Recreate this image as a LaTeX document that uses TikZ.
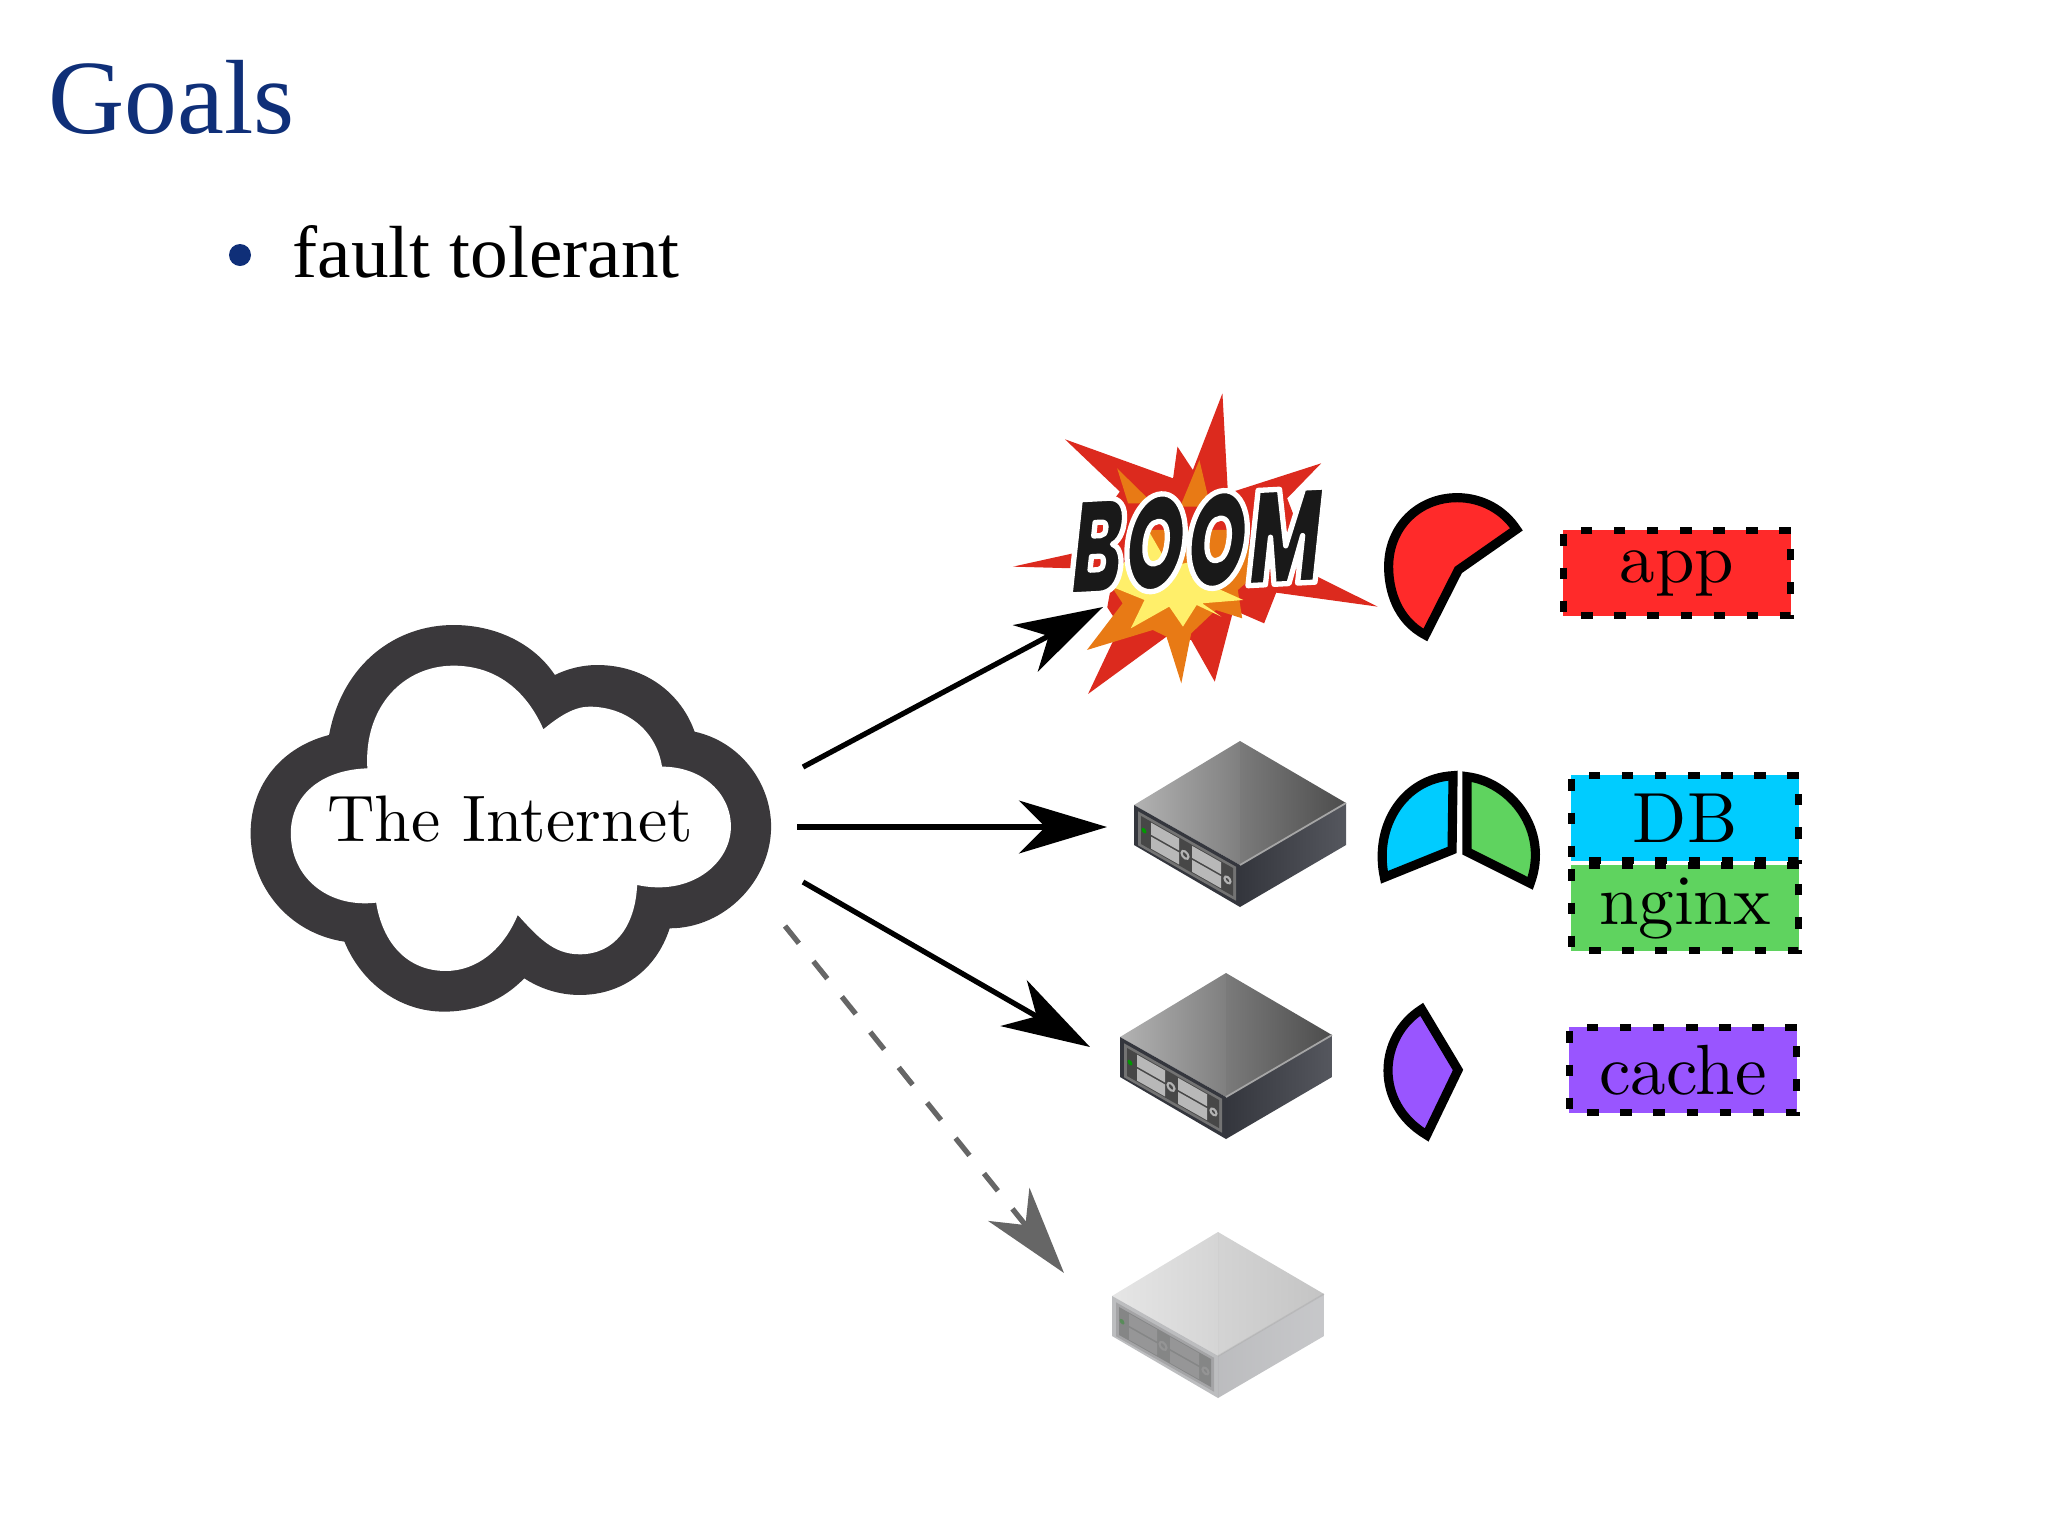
\documentclass[tikz,border=0pt]{standalone}
\usepackage{fontspec}
\usetikzlibrary{arrows.meta}
\newfontfamily\slidefont{Liberation Serif}
\newfontfamily\goalfont{Liberation Serif}[FakeStretch=1.02]
\newfontfamily\boomfont{Poppins Black}[FakeSlant=0.16,FakeStretch=0.59]

\definecolor{slideblue}{HTML}{0F2F78}
\definecolor{clouddark}{HTML}{3A383B}
\definecolor{apppart}{HTML}{FF2A2A}
\definecolor{dbpart}{HTML}{00CCFF}
\definecolor{nginxpart}{HTML}{5FD35F}
\definecolor{cachepart}{HTML}{9955FF}
\definecolor{boomred}{HTML}{DC2A1E}
\definecolor{boomorange}{HTML}{E87A15}
\definecolor{boomyellow}{HTML}{FFEF6A}
\definecolor{casedark}{HTML}{34363D}
\definecolor{casemid}{HTML}{55575E}

\tikzset{
    link/.style={line width=1.5pt, -{Stealth[length=25pt, width=15pt, inset=7.5pt]}},
    lostlink/.style={link, color=black!60, dash pattern=on 6.3pt off 6.6pt},
    part/.style={draw=black, line width=2.6pt},
    service/.style={draw=black, line width=1.9pt, dash pattern=on 3.2pt off 6.2pt,
        minimum width=32pt, minimum height=12pt, inner sep=0pt, scale=2.02},
    pics/server/.style={code={
        % top of the case
        \shade[left color=black!30, right color=black!50] (0,0) -- (-106,64) -- (0,124) -- cycle;
        \shade[left color=black!52, right color=black!70] (0,0) -- (106,62) -- (0,124) -- cycle;
        % sides
        \fill[casedark] (-106,64) -- (0,124) -- (0,166) -- (-106,104) -- cycle;
        \shade[left color=casedark, right color=casemid] (0,124) -- (106,62) -- (106,104) -- (0,166) -- cycle;
        \draw[black!35, line width=0.5pt] (0,124) -- (106,62);
        % front panel
        \begin{scope}[shift={(-106,64)}, yslant=-0.566]
            \fill[black!55] (4,4) rectangle (102,38);
            \fill[black!72] (7,7) rectangle (99,35);
            \fill[green!60!black] (10,20) circle (2.5);
            \fill[black!28] (17,8) rectangle (45,20);
            \fill[black!28] (17,22) rectangle (45,34);
            \fill[black!28] (58,8) rectangle (87,20);
            \fill[black!28] (58,22) rectangle (87,34);
            \draw[black!30, line width=0.6pt] (51,21) circle (3.5);
            \draw[black!30, line width=0.6pt] (93.5,22) circle (3);
        \end{scope}
    }}
}

\begin{document}
\begin{tikzpicture}[x=0.01cm, y=-0.01cm]
    \useasboundingbox (0,0) rectangle (2048,1536);

    \node[anchor=base west, inner sep=0pt, text=slideblue, font=\slidefont\fontsize{30}{36}\selectfont] (title) at (48,133) {Goals};
    \fill[slideblue] (240,255) circle (11);
    \node[anchor=base west, inner sep=0pt, font=\goalfont\fontsize{21}{25}\selectfont] (goal) at (292,277) {fault tolerant};

    % cloud
    \begin{scope}[shift={(220,600)}, xscale=0.3827, yscale=0.3333]
        \fill[clouddark] (285,405) .. controls (320,190) and (460,75) .. (610,75)
            .. controls (720,75) and (820,130) .. (875,225)
            .. controls (910,205) and (950,195) .. (985,195)
            .. controls (1110,195) and (1205,280) .. (1240,395)
            .. controls (1360,425) and (1440,550) .. (1440,680)
            .. controls (1440,840) and (1320,985) .. (1175,985)
            .. controls (1140,1110) and (1050,1185) .. (940,1185)
            .. controls (885,1185) and (835,1165) .. (795,1135)
            .. controls (740,1200) and (670,1235) .. (585,1235)
            .. controls (470,1235) and (370,1150) .. (325,1025)
            .. controls (180,1000) and (80,860) .. (80,700)
            .. controls (80,550) and (165,440) .. (285,405) -- cycle;
        \fill[white] (385,505) .. controls (375,320) and (480,197) .. (610,197)
            .. controls (720,197) and (800,270) .. (845,388)
            .. controls (885,350) and (925,320) .. (965,320)
            .. controls (1060,320) and (1140,390) .. (1155,500)
            .. controls (1260,500) and (1335,580) .. (1335,680)
            .. controls (1335,790) and (1230,890) .. (1090,855)
            .. controls (1085,980) and (1030,1063) .. (940,1063)
            .. controls (870,1063) and (830,1010) .. (778,945)
            .. controls (740,1050) and (670,1113) .. (590,1113)
            .. controls (490,1113) and (425,1030) .. (408,908)
            .. controls (280,925) and (185,830) .. (185,700)
            .. controls (185,590) and (260,510) .. (385,505) -- cycle;
    \end{scope}
    \node[anchor=base, inner sep=0pt, scale=1.87] (cloud) at (510,841) {The Internet};

    % explosion
    \begin{scope}[shift={(980,370)}, xscale=0.5485, yscale=0.3333]
        \fill[boomred] (442,70) -- (452,370) -- (622,280) -- (560,385) -- (615,620) -- (725,710)
            -- (540,668) -- (518,760) -- (462,720) -- (428,935) -- (385,810) -- (340,800)
            -- (197,972) -- (255,770) -- (232,712) -- (240,640) -- (170,595) -- (60,590)
            -- (170,550) -- (255,365) -- (155,208) -- (352,325) -- (360,230) -- (388,300) -- cycle;
        \fill[boomorange] (250,295) -- (315,400) -- (270,400) -- cycle;
        \fill[boomorange] (400,270) -- (420,410) -- (365,410) -- cycle;
        \fill[boomorange] (300,480) -- (470,480) -- (520,590) -- (470,660) -- (478,745) -- (430,720)
            -- (385,790) -- (367,940) -- (340,800) -- (315,780) -- (195,840) -- (260,700)
            -- (240,650) -- cycle;
        \fill[boomyellow] (240,620) -- (310,490) -- (345,590) -- (400,570) -- (385,620) -- (480,690)
            -- (405,700) -- (440,740) -- (395,705) -- (370,770)
            -- (345,710) -- (275,775) -- (300,690) -- (240,650) -- cycle;
        \filldraw[part, fill=apppart] (812,795) .. controls (760,750) and (745,660) .. (745,590)
            .. controls (745,470) and (800,383) .. (870,383)
            .. controls (915,383) and (955,420) .. (978,478) -- (872,600) -- cycle;
    \end{scope}
    \node[inner sep=0pt, rotate=3, text=black!90, font=\boomfont\fontsize{38}{44}\selectfont] (boom) at (1190,541)
        {\special{pdf:code q 2 Tr 1.5 w 1 1 1 RG 1 j}BOOM\special{pdf:code Q}};

    \pic (srvdb) at (1240,741) {server};
    \pic (srvcache) at (1226,973) {server};
    \pic[opacity=0.33] (srvlost) at (1218,1232) {server};

    % pieces of the service
    \begin{scope}[shift={(1080,720)}, xscale=0.4974, yscale=0.3333]
        \filldraw[part, fill=dbpart] (612,472) .. controls (590,320) and (650,175) .. (750,167) -- (748,390) -- cycle;
        \filldraw[part, fill=nginxpart] (778,170) .. controls (865,185) and (945,330) .. (905,490) -- (778,395) -- cycle;
        \filldraw[part, fill=cachepart] (687,868) .. controls (600,950) and (590,1150) .. (697,1245) -- (760,1050) -- cycle;
    \end{scope}

    \node[service, fill=apppart] (app) at (1677,573) {app};
    \node[service, fill=dbpart] (db) at (1685,818) {DB};
    \node[service, fill=nginxpart] (nginx) at (1685,908) {nginx};
    \node[service, fill=cachepart] (cache) at (1683,1070) {cache};

    \coordinate (outboom) at (803,767);
    \coordinate (outdb) at (797,827);
    \coordinate (outcache) at (803,882);
    \coordinate (outlost) at (785,926);
    \coordinate (inboom) at (1103,607);
    \coordinate (indb) at (1107,827);
    \coordinate (incache) at (1090,1047);
    \coordinate (inlost) at (1064,1273);

    \draw[link] (outboom) -- (inboom);
    \draw[link] (outdb) -- (indb);
    \draw[link] (outcache) -- (incache);
    \draw[lostlink] (outlost) -- (inlost);
\end{tikzpicture}
\end{document}
